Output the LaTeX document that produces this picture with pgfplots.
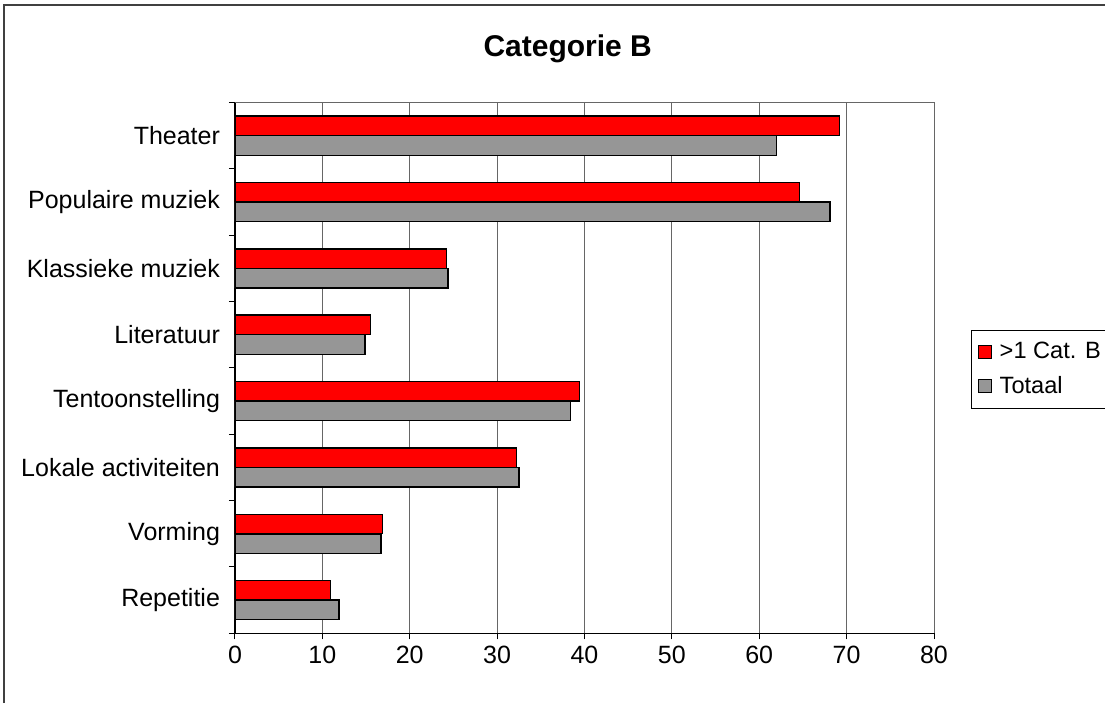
\documentclass[border=0pt]{standalone}
\usepackage{fontspec}
\setmainfont{Liberation Sans}
\usepackage{pgfplots}
\pgfplotsset{compat=1.18}
\definecolor{barred}{HTML}{FF0000}
\definecolor{bargray}{HTML}{969696}
\begin{document}
\begin{tikzpicture}[x=1pt,y=1pt]
\useasboundingbox (0,0) rectangle (552.5,351.5);
\draw[black!75, line width=0.6pt] (2,0) -- (2,349) -- (560,349);
\begin{axis}[
  at={(117.5pt,34.85pt)}, anchor=south west,
  scale only axis, width=349.5pt, height=265.4pt,
  xbar,
  legend image code/.code={\draw[#1,draw=black,line width=0.5pt] (0pt,-3.25pt) rectangle (6.5pt,3.25pt); \path (8.5pt,0pt);},
  xmin=0, xmax=80, ymin=-0.5, ymax=7.5,
  axis background/.style={draw=black!60, line width=0.5pt},
  axis x line*=bottom, axis y line*=left,
  xtick={0,10,...,80},
  ytick={0,...,7},
  yticklabels={Repetitie,Vorming,Lokale activiteiten,Tentoonstelling,Literatuur,Klassieke muziek,Populaire muziek,Theater},
  xmajorgrids,
  major grid style={black!60, line width=0.5pt},
  axis line style={black, line width=0.6pt, -},
  ytick style={draw=none},
  xtick style={black, line width=0.5pt},
  tick align=outside,
  major tick length=3pt,
  extra y ticks={-0.5,0.5,1.5,2.5,3.5,4.5,5.5,6.5,7.5},
  extra y tick labels={},
  extra y tick style={ytick style={draw=black, line width=0.5pt}, major tick length=3pt, tick align=outside},
  ticklabel style={font=\fontsize{12.5}{15}\selectfont},
  /pgf/number format/assume math mode=true,
  yticklabel style={xshift=-1pt},
  title={Categorie B},
  title style={at={(0.476,1.078)}, anchor=center, font=\bfseries\fontsize{15}{18}\selectfont},
  legend style={at={(1.053,0.5714)}, anchor=north west, draw=black, line width=0.5pt,
    font=\fontsize{11.8}{14}\selectfont, inner xsep=3pt, inner ysep=4pt, row sep=3pt},
  legend cell align=left,
]
\addplot[bar width=9.75pt, bar shift=4.9pt, fill=barred, draw=black, line width=0.7pt]
  coordinates {(10.9,0) (16.9,1) (32.2,2) (39.4,3) (15.5,4) (24.2,5) (64.6,6) (69.2,7)};
\addplot[bar width=9.75pt, bar shift=-4.9pt, fill=bargray, draw=black, line width=0.7pt]
  coordinates {(11.9,0) (16.7,1) (32.5,2) (38.4,3) (14.9,4) (24.4,5) (68.1,6) (62.0,7)};
\legend{>1 Cat. B, Totaal}
\end{axis}
\end{tikzpicture}
\end{document}
